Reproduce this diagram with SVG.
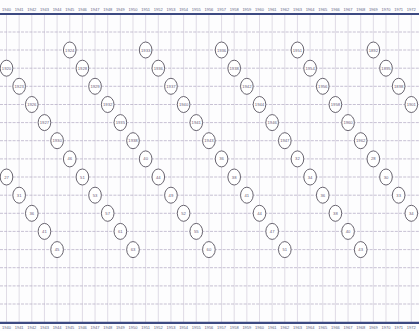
<svg xmlns="http://www.w3.org/2000/svg" width="419" height="331" viewBox="0 0 419 331">
<style>
.bg{fill:#fdfdfe}
.vl{stroke:#d3cddb;stroke-width:0.7}
.hl{stroke:#b9b1c8;stroke-width:0.8;stroke-dasharray:3 1.2}
.ax{stroke:#3d4a82;stroke-width:1.8}
.yl{font-family:"Liberation Sans",Arial,sans-serif;font-size:4px;fill:#5d6385;text-anchor:middle}
.n ellipse{fill:#ffffff;stroke:#57525f;stroke-width:0.9}
.n text{font-family:"Liberation Sans",Arial,sans-serif;font-size:4.2px;fill:#6a5c78;text-anchor:middle}
</style>
<rect class="bg" x="0" y="0" width="419" height="331"/>
<g id="grid">
<g class="vl">
<line x1="6.5" y1="14" x2="6.5" y2="322"/><line x1="19.15" y1="14" x2="19.15" y2="322"/><line x1="31.8" y1="14" x2="31.8" y2="322"/><line x1="44.45" y1="14" x2="44.45" y2="322"/><line x1="57.1" y1="14" x2="57.1" y2="322"/><line x1="69.75" y1="14" x2="69.75" y2="322"/><line x1="82.4" y1="14" x2="82.4" y2="322"/><line x1="95.05" y1="14" x2="95.05" y2="322"/><line x1="107.7" y1="14" x2="107.7" y2="322"/><line x1="120.35" y1="14" x2="120.35" y2="322"/><line x1="133" y1="14" x2="133" y2="322"/><line x1="145.65" y1="14" x2="145.65" y2="322"/><line x1="158.3" y1="14" x2="158.3" y2="322"/><line x1="170.95" y1="14" x2="170.95" y2="322"/><line x1="183.6" y1="14" x2="183.6" y2="322"/><line x1="196.25" y1="14" x2="196.25" y2="322"/><line x1="208.9" y1="14" x2="208.9" y2="322"/><line x1="221.55" y1="14" x2="221.55" y2="322"/><line x1="234.2" y1="14" x2="234.2" y2="322"/><line x1="246.85" y1="14" x2="246.85" y2="322"/><line x1="259.5" y1="14" x2="259.5" y2="322"/><line x1="272.15" y1="14" x2="272.15" y2="322"/><line x1="284.8" y1="14" x2="284.8" y2="322"/><line x1="297.45" y1="14" x2="297.45" y2="322"/><line x1="310.1" y1="14" x2="310.1" y2="322"/><line x1="322.75" y1="14" x2="322.75" y2="322"/><line x1="335.4" y1="14" x2="335.4" y2="322"/><line x1="348.05" y1="14" x2="348.05" y2="322"/><line x1="360.7" y1="14" x2="360.7" y2="322"/><line x1="373.35" y1="14" x2="373.35" y2="322"/><line x1="386" y1="14" x2="386" y2="322"/><line x1="398.65" y1="14" x2="398.65" y2="322"/><line x1="411.3" y1="14" x2="411.3" y2="322"/>
</g>
<g class="hl">
<line x1="0" y1="32" x2="419" y2="32"/><line x1="0" y1="50" x2="419" y2="50"/><line x1="0" y1="68.2" x2="419" y2="68.2"/><line x1="0" y1="86.3" x2="419" y2="86.3"/><line x1="0" y1="104.5" x2="419" y2="104.5"/><line x1="0" y1="122.6" x2="419" y2="122.6"/><line x1="0" y1="140.7" x2="419" y2="140.7"/><line x1="0" y1="158.9" x2="419" y2="158.9"/><line x1="0" y1="177" x2="419" y2="177"/><line x1="0" y1="195.2" x2="419" y2="195.2"/><line x1="0" y1="213.3" x2="419" y2="213.3"/><line x1="0" y1="231.4" x2="419" y2="231.4"/><line x1="0" y1="249.6" x2="419" y2="249.6"/><line x1="0" y1="267.7" x2="419" y2="267.7"/><line x1="0" y1="285.9" x2="419" y2="285.9"/><line x1="0" y1="304" x2="419" y2="304"/>
</g>
<line class="ax" x1="0" y1="14" x2="419" y2="14"/>
<line class="ax" x1="0" y1="322.8" x2="419" y2="322.8" style="stroke-width:2.2"/>
</g>
<g id="axis-top" class="yl">
<text x="6.5" y="10.5">1940</text><text x="19.15" y="10.5">1941</text><text x="31.8" y="10.5">1942</text><text x="44.45" y="10.5">1943</text><text x="57.1" y="10.5">1944</text><text x="69.75" y="10.5">1945</text><text x="82.4" y="10.5">1946</text><text x="95.05" y="10.5">1947</text><text x="107.7" y="10.5">1948</text><text x="120.35" y="10.5">1949</text><text x="133" y="10.5">1950</text><text x="145.65" y="10.5">1951</text><text x="158.3" y="10.5">1952</text><text x="170.95" y="10.5">1953</text><text x="183.6" y="10.5">1954</text><text x="196.25" y="10.5">1955</text><text x="208.9" y="10.5">1956</text><text x="221.55" y="10.5">1957</text><text x="234.2" y="10.5">1958</text><text x="246.85" y="10.5">1959</text><text x="259.5" y="10.5">1960</text><text x="272.15" y="10.5">1961</text><text x="284.8" y="10.5">1962</text><text x="297.45" y="10.5">1963</text><text x="310.1" y="10.5">1964</text><text x="322.75" y="10.5">1965</text><text x="335.4" y="10.5">1966</text><text x="348.05" y="10.5">1967</text><text x="360.7" y="10.5">1968</text><text x="373.35" y="10.5">1969</text><text x="386" y="10.5">1970</text><text x="398.65" y="10.5">1971</text><text x="411.3" y="10.5">1972</text>
</g>
<g id="axis-bottom" class="yl">
<text x="6.5" y="328.8">1940</text><text x="19.15" y="328.8">1941</text><text x="31.8" y="328.8">1942</text><text x="44.45" y="328.8">1943</text><text x="57.1" y="328.8">1944</text><text x="69.75" y="328.8">1945</text><text x="82.4" y="328.8">1946</text><text x="95.05" y="328.8">1947</text><text x="107.7" y="328.8">1948</text><text x="120.35" y="328.8">1949</text><text x="133" y="328.8">1950</text><text x="145.65" y="328.8">1951</text><text x="158.3" y="328.8">1952</text><text x="170.95" y="328.8">1953</text><text x="183.6" y="328.8">1954</text><text x="196.25" y="328.8">1955</text><text x="208.9" y="328.8">1956</text><text x="221.55" y="328.8">1957</text><text x="234.2" y="328.8">1958</text><text x="246.85" y="328.8">1959</text><text x="259.5" y="328.8">1960</text><text x="272.15" y="328.8">1961</text><text x="284.8" y="328.8">1962</text><text x="297.45" y="328.8">1963</text><text x="310.1" y="328.8">1964</text><text x="322.75" y="328.8">1965</text><text x="335.4" y="328.8">1966</text><text x="348.05" y="328.8">1967</text><text x="360.7" y="328.8">1968</text><text x="373.35" y="328.8">1969</text><text x="386" y="328.8">1970</text><text x="398.65" y="328.8">1971</text><text x="411.3" y="328.8">1972</text>
</g>
<g id="connectors"></g>
<g id="nodes">
<!-- diagonal tail from left edge -->
<g class="n" id="n0_8"><ellipse cx="6.5" cy="177" rx="6.3" ry="8"/><text x="6.5" y="178.5">27</text></g>
<g class="n" id="n1_9"><ellipse cx="19.15" cy="195.2" rx="6.3" ry="8"/><text x="19.15" y="196.7">31</text></g>
<g class="n" id="n2_10"><ellipse cx="31.8" cy="213.3" rx="6.3" ry="8"/><text x="31.8" y="214.8">36</text></g>
<g class="n" id="n3_11"><ellipse cx="44.45" cy="231.4" rx="6.3" ry="8"/><text x="44.45" y="232.9">41</text></g>
<g class="n" id="n4_12"><ellipse cx="57.1" cy="249.6" rx="6.3" ry="8"/><text x="57.1" y="251.1">45</text></g>
<!-- diagonal starting off-left -->
<g class="n" id="n0_2"><ellipse cx="6.5" cy="68.2" rx="6.3" ry="8"/><text x="6.5" y="69.7">1920</text></g>
<g class="n" id="n1_3"><ellipse cx="19.15" cy="86.3" rx="6.3" ry="8"/><text x="19.15" y="87.8">1923</text></g>
<g class="n" id="n2_4"><ellipse cx="31.8" cy="104.5" rx="6.3" ry="8"/><text x="31.8" y="106">1926</text></g>
<g class="n" id="n3_5"><ellipse cx="44.45" cy="122.6" rx="6.3" ry="8"/><text x="44.45" y="124.1">1927</text></g>
<g class="n" id="n4_6"><ellipse cx="57.1" cy="140.7" rx="6.3" ry="8"/><text x="57.1" y="142.2">1930</text></g>
<g class="n" id="n5_7"><ellipse cx="69.75" cy="158.9" rx="6.3" ry="8"/><text x="69.75" y="160.4">46</text></g>
<g class="n" id="n6_8"><ellipse cx="82.4" cy="177" rx="6.3" ry="8"/><text x="82.4" y="178.5">51</text></g>
<g class="n" id="n7_9"><ellipse cx="95.05" cy="195.2" rx="6.3" ry="8"/><text x="95.05" y="196.7">53</text></g>
<g class="n" id="n8_10"><ellipse cx="107.7" cy="213.3" rx="6.3" ry="8"/><text x="107.7" y="214.8">57</text></g>
<g class="n" id="n9_11"><ellipse cx="120.35" cy="231.4" rx="6.3" ry="8"/><text x="120.35" y="232.9">61</text></g>
<g class="n" id="n10_12"><ellipse cx="133" cy="249.6" rx="6.3" ry="8"/><text x="133" y="251.1">63</text></g>
<!-- diagonal 5 -->
<g class="n" id="n5_1"><ellipse cx="69.75" cy="50" rx="6.3" ry="8"/><text x="69.75" y="51.5">1924</text></g>
<g class="n" id="n6_2"><ellipse cx="82.4" cy="68.2" rx="6.3" ry="8"/><text x="82.4" y="69.7">1928</text></g>
<g class="n" id="n7_3"><ellipse cx="95.05" cy="86.3" rx="6.3" ry="8"/><text x="95.05" y="87.8">1929</text></g>
<g class="n" id="n8_4"><ellipse cx="107.7" cy="104.5" rx="6.3" ry="8"/><text x="107.7" y="106">1932</text></g>
<g class="n" id="n9_5"><ellipse cx="120.35" cy="122.6" rx="6.3" ry="8"/><text x="120.35" y="124.1">1935</text></g>
<g class="n" id="n10_6"><ellipse cx="133" cy="140.7" rx="6.3" ry="8"/><text x="133" y="142.2">1938</text></g>
<g class="n" id="n11_7"><ellipse cx="145.65" cy="158.9" rx="6.3" ry="8"/><text x="145.65" y="160.4">40</text></g>
<g class="n" id="n12_8"><ellipse cx="158.3" cy="177" rx="6.3" ry="8"/><text x="158.3" y="178.5">44</text></g>
<g class="n" id="n13_9"><ellipse cx="170.95" cy="195.2" rx="6.3" ry="8"/><text x="170.95" y="196.7">49</text></g>
<g class="n" id="n14_10"><ellipse cx="183.6" cy="213.3" rx="6.3" ry="8"/><text x="183.6" y="214.8">52</text></g>
<g class="n" id="n15_11"><ellipse cx="196.25" cy="231.4" rx="6.3" ry="8"/><text x="196.25" y="232.9">55</text></g>
<g class="n" id="n16_12"><ellipse cx="208.9" cy="249.6" rx="6.3" ry="8"/><text x="208.9" y="251.1">60</text></g>
<!-- diagonal 11 -->
<g class="n" id="n11_1"><ellipse cx="145.65" cy="50" rx="6.3" ry="8"/><text x="145.65" y="51.5">1933</text></g>
<g class="n" id="n12_2"><ellipse cx="158.3" cy="68.2" rx="6.3" ry="8"/><text x="158.3" y="69.7">1936</text></g>
<g class="n" id="n13_3"><ellipse cx="170.95" cy="86.3" rx="6.3" ry="8"/><text x="170.95" y="87.8">1937</text></g>
<g class="n" id="n14_4"><ellipse cx="183.6" cy="104.5" rx="6.3" ry="8"/><text x="183.6" y="106">1940</text></g>
<g class="n" id="n15_5"><ellipse cx="196.25" cy="122.6" rx="6.3" ry="8"/><text x="196.25" y="124.1">1941</text></g>
<g class="n" id="n16_6"><ellipse cx="208.9" cy="140.7" rx="6.3" ry="8"/><text x="208.9" y="142.2">1943</text></g>
<g class="n" id="n17_7"><ellipse cx="221.55" cy="158.9" rx="6.3" ry="8"/><text x="221.55" y="160.4">36</text></g>
<g class="n" id="n18_8"><ellipse cx="234.2" cy="177" rx="6.3" ry="8"/><text x="234.2" y="178.5">38</text></g>
<g class="n" id="n19_9"><ellipse cx="246.85" cy="195.2" rx="6.3" ry="8"/><text x="246.85" y="196.7">41</text></g>
<g class="n" id="n20_10"><ellipse cx="259.5" cy="213.3" rx="6.3" ry="8"/><text x="259.5" y="214.8">44</text></g>
<g class="n" id="n21_11"><ellipse cx="272.15" cy="231.4" rx="6.3" ry="8"/><text x="272.15" y="232.9">47</text></g>
<g class="n" id="n22_12"><ellipse cx="284.8" cy="249.6" rx="6.3" ry="8"/><text x="284.8" y="251.1">51</text></g>
<!-- diagonal 17 -->
<g class="n" id="n17_1"><ellipse cx="221.55" cy="50" rx="6.3" ry="8"/><text x="221.55" y="51.5">1936</text></g>
<g class="n" id="n18_2"><ellipse cx="234.2" cy="68.2" rx="6.3" ry="8"/><text x="234.2" y="69.7">1938</text></g>
<g class="n" id="n19_3"><ellipse cx="246.85" cy="86.3" rx="6.3" ry="8"/><text x="246.85" y="87.8">1942</text></g>
<g class="n" id="n20_4"><ellipse cx="259.5" cy="104.5" rx="6.3" ry="8"/><text x="259.5" y="106">1944</text></g>
<g class="n" id="n21_5"><ellipse cx="272.15" cy="122.6" rx="6.3" ry="8"/><text x="272.15" y="124.1">1946</text></g>
<g class="n" id="n22_6"><ellipse cx="284.8" cy="140.7" rx="6.3" ry="8"/><text x="284.8" y="142.2">1947</text></g>
<g class="n" id="n23_7"><ellipse cx="297.45" cy="158.9" rx="6.3" ry="8"/><text x="297.45" y="160.4">32</text></g>
<g class="n" id="n24_8"><ellipse cx="310.1" cy="177" rx="6.3" ry="8"/><text x="310.1" y="178.5">34</text></g>
<g class="n" id="n25_9"><ellipse cx="322.75" cy="195.2" rx="6.3" ry="8"/><text x="322.75" y="196.7">36</text></g>
<g class="n" id="n26_10"><ellipse cx="335.4" cy="213.3" rx="6.3" ry="8"/><text x="335.4" y="214.8">38</text></g>
<g class="n" id="n27_11"><ellipse cx="348.05" cy="231.4" rx="6.3" ry="8"/><text x="348.05" y="232.9">40</text></g>
<g class="n" id="n28_12"><ellipse cx="360.7" cy="249.6" rx="6.3" ry="8"/><text x="360.7" y="251.1">43</text></g>
<!-- diagonal 23 -->
<g class="n" id="n23_1"><ellipse cx="297.45" cy="50" rx="6.3" ry="8"/><text x="297.45" y="51.5">1951</text></g>
<g class="n" id="n24_2"><ellipse cx="310.1" cy="68.2" rx="6.3" ry="8"/><text x="310.1" y="69.7">1954</text></g>
<g class="n" id="n25_3"><ellipse cx="322.75" cy="86.3" rx="6.3" ry="8"/><text x="322.75" y="87.8">1956</text></g>
<g class="n" id="n26_4"><ellipse cx="335.4" cy="104.5" rx="6.3" ry="8"/><text x="335.4" y="106">1958</text></g>
<g class="n" id="n27_5"><ellipse cx="348.05" cy="122.6" rx="6.3" ry="8"/><text x="348.05" y="124.1">1960</text></g>
<g class="n" id="n28_6"><ellipse cx="360.7" cy="140.7" rx="6.3" ry="8"/><text x="360.7" y="142.2">1962</text></g>
<g class="n" id="n29_7"><ellipse cx="373.35" cy="158.9" rx="6.3" ry="8"/><text x="373.35" y="160.4">28</text></g>
<g class="n" id="n30_8"><ellipse cx="386" cy="177" rx="6.3" ry="8"/><text x="386" y="178.5">30</text></g>
<g class="n" id="n31_9"><ellipse cx="398.65" cy="195.2" rx="6.3" ry="8"/><text x="398.65" y="196.7">33</text></g>
<g class="n" id="n32_10"><ellipse cx="411.3" cy="213.3" rx="6.3" ry="8"/><text x="411.3" y="214.8">34</text></g>
<!-- diagonal 29 -->
<g class="n" id="n29_1"><ellipse cx="373.35" cy="50" rx="6.3" ry="8"/><text x="373.35" y="51.5">1892</text></g>
<g class="n" id="n30_2"><ellipse cx="386" cy="68.2" rx="6.3" ry="8"/><text x="386" y="69.7">1895</text></g>
<g class="n" id="n31_3"><ellipse cx="398.65" cy="86.3" rx="6.3" ry="8"/><text x="398.65" y="87.8">1898</text></g>
<g class="n" id="n32_4"><ellipse cx="411.3" cy="104.5" rx="6.3" ry="8"/><text x="411.3" y="106">1901</text></g>
</g>
</svg>
